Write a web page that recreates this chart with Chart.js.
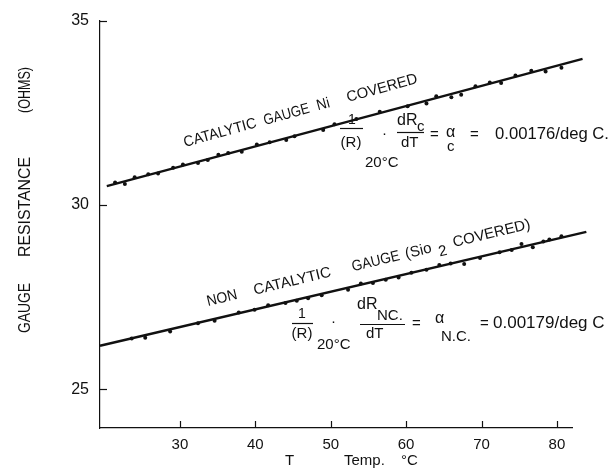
<!DOCTYPE html>
<html>
<head>
<meta charset="utf-8">
<script src="https://cdn.jsdelivr.net/npm/chart.js@4/dist/chart.umd.min.js"></script>
<style>
  body { margin: 0; background: #fff; }
  canvas { display: block; }
</style>
</head>
<body>
<canvas id="gaugeChart" width="613" height="475"></canvas>
<script>
// axis ticks
const xTicks = [30, 40, 50, 60, 70, 80];
const yTicks = [25, 30, 35];

// catalytic gauge (Ni covered) - measured points
const catT = [21.4, 22.7, 24.0, 25.8, 27.1, 29.1, 30.4, 32.4, 33.7, 35.1, 36.4, 38.2, 40.2, 41.9, 44.1, 45.2,
  49.0, 50.5, 53.4, 56.5, 60.2, 62.7, 64.0, 66.0, 67.3, 69.2, 71.1, 72.6, 74.5, 76.6, 78.5, 80.6];
const catR = [30.61, 30.57, 30.75, 30.83, 30.85, 31.01, 31.10, 31.14, 31.22, 31.36, 31.41, 31.44, 31.64, 31.70, 31.76, 31.86,
  32.03, 32.19, 32.33, 32.53, 32.68, 32.75, 32.95, 32.92, 32.99, 33.22, 33.32, 33.31, 33.51, 33.64, 33.62, 33.72];
const catFitT = [20.3, 83.4];
const catFitR = [30.51, 33.96];

// non catalytic gauge (SiO2 covered)
const ncT = [23.6, 25.4, 28.7, 32.4, 34.6, 37.8, 39.9, 41.7, 44.0, 45.5, 47.0, 48.8, 52.3, 54.0, 55.6, 57.3,
  59.0, 60.7, 62.7, 64.4, 65.9, 67.7, 69.8, 72.4, 74.0, 75.3, 76.8, 78.2, 79.0, 80.6];
const ncR = [26.38, 26.40, 26.57, 26.79, 26.86, 27.08, 27.16, 27.28, 27.34, 27.40, 27.47, 27.55, 27.70, 27.87, 27.88, 27.97,
  28.03, 28.16, 28.24, 28.37, 28.41, 28.40, 28.56, 28.72, 28.78, 28.94, 28.85, 29.01, 29.06, 29.15];
const ncFitT = [19.4, 83.9];
const ncFitR = [26.18, 29.27];

const ink = '#111';
const FONT = '"Liberation Sans", Arial, sans-serif';

const pts = (xs, ys) => xs.map((x, i) => ({ x: x, y: ys[i] }));

// text helper
function txt(ctx, s, x, y, size, opt) {
  opt = opt || {};
  ctx.save();
  ctx.translate(x, y);
  if (opt.angle) ctx.rotate(opt.angle * Math.PI / 180);
  ctx.font = size + 'px ' + FONT;
  ctx.fillStyle = ink;
  ctx.textAlign = opt.align || 'left';
  ctx.textBaseline = 'alphabetic';
  if (opt.width) ctx.fillText(s, 0, 0, opt.width); else ctx.fillText(s, 0, 0);
  ctx.restore();
}

function hline(ctx, x1, x2, y) {
  ctx.beginPath();
  ctx.moveTo(x1, y);
  ctx.lineTo(x2, y);
  ctx.stroke();
}

const decor = {
  id: 'decor',
  afterDraw(chart) {
    const ctx = chart.ctx;
    const xs = chart.scales.x, ys = chart.scales.y;
    const area = chart.chartArea;
    ctx.save();
    ctx.strokeStyle = ink;
    ctx.lineWidth = 1.2;
    // inward tick marks
    xTicks.forEach(v => {
      const px = Math.round(xs.getPixelForValue(v)) + 0.5;
      ctx.beginPath(); ctx.moveTo(px, area.bottom); ctx.lineTo(px, area.bottom - 7); ctx.stroke();
    });
    yTicks.forEach(v => {
      const py = Math.round(ys.getPixelForValue(v)) + 0.5;
      ctx.beginPath(); ctx.moveTo(area.left, py); ctx.lineTo(area.left + 7, py); ctx.stroke();
    });

    // axis titles
    txt(ctx, 'GAUGE', 30, 333, 16, { angle: -90, width: 50 });
    txt(ctx, 'RESISTANCE', 30, 257, 16, { angle: -90, width: 100 });
    txt(ctx, '(OHMS)', 30, 113, 16, { angle: -90, width: 46 });
    txt(ctx, 'T', 285, 465, 15);
    txt(ctx, 'Temp.', 344, 465, 15);
    txt(ctx, '°C', 401, 465, 15);

    // catalytic curve label
    ctx.save();
    ctx.translate(185, 147);
    ctx.rotate(-15.4 * Math.PI / 180);
    txt(ctx, 'CATALYTIC', 0, 0, 15, { width: 75 });
    txt(ctx, 'GAUGE', 83, 0, 15, { width: 47 });
    txt(ctx, 'Ni', 138, 0, 15, { width: 13 });
    txt(ctx, 'COVERED', 169, 0, 15, { width: 73 });
    ctx.restore();

    // non catalytic curve label
    ctx.save();
    ctx.translate(208, 306);
    ctx.rotate(-13.5 * Math.PI / 180);
    txt(ctx, 'NON', 0, 0, 15, { width: 31 });
    txt(ctx, 'CATALYTIC', 48, 0, 15, { width: 81 });
    txt(ctx, 'GAUGE', 149, 0, 15, { width: 49 });
    txt(ctx, '(Sio', 204, 0, 15, { width: 32 });
    txt(ctx, '2', 237, 6, 15);
    txt(ctx, 'COVERED)', 253, 0, 15, { width: 87 });
    ctx.restore();

    ctx.lineWidth = 1.2;
    // formula 1
    txt(ctx, '1', 352, 124, 14, { align: 'center' });
    hline(ctx, 340, 363, 128.5);
    txt(ctx, '(R)', 351, 147, 15, { align: 'center' });
    txt(ctx, '20°C', 365, 167, 15);
    txt(ctx, '·', 382, 138, 15);
    txt(ctx, 'dR', 397, 125, 16);
    txt(ctx, 'c', 417, 131, 15);
    hline(ctx, 397, 424, 132.5);
    txt(ctx, 'dT', 401, 147, 15);
    txt(ctx, '=', 430, 139, 15);
    txt(ctx, 'α', 446, 137, 16);
    txt(ctx, 'c', 447, 151, 15);
    txt(ctx, '=', 470, 139, 15);
    txt(ctx, '0.00176/deg C.', 495, 139, 17, { width: 114 });

    // formula 2
    txt(ctx, '1', 302, 318, 14, { align: 'center' });
    hline(ctx, 292, 313, 323.5);
    txt(ctx, '(R)', 302, 338, 15, { align: 'center' });
    txt(ctx, '20°C', 317, 349, 15);
    txt(ctx, '·', 331, 326, 15);
    txt(ctx, 'dR', 357, 309, 16);
    txt(ctx, 'NC.', 377, 320, 15, { width: 26 });
    hline(ctx, 360, 405, 324.5);
    txt(ctx, 'dT', 366, 338, 15);
    txt(ctx, '=', 412, 328, 15);
    txt(ctx, 'α', 435, 323, 16);
    txt(ctx, 'N.C.', 441, 341, 15, { width: 30 });
    txt(ctx, '=', 480, 328, 15);
    txt(ctx, '0.00179/deg C', 493, 328, 17, { width: 114 });
    ctx.restore();
  }
};

const ctx = document.getElementById('gaugeChart').getContext('2d');
const chart = new Chart(ctx, {
  type: 'scatter',
  data: {
    datasets: [
      { data: pts(catFitT, catFitR), showLine: true, borderColor: ink, borderWidth: 2.4, pointRadius: 0, clip: false },
      { data: pts(catT, catR), backgroundColor: ink, borderColor: ink, pointRadius: 2, borderWidth: 0 },
      { data: pts(ncFitT, ncFitR), showLine: true, borderColor: ink, borderWidth: 2.4, pointRadius: 0, clip: false },
      { data: pts(ncT, ncR), backgroundColor: ink, borderColor: ink, pointRadius: 2, borderWidth: 0 }
    ]
  },
  options: {
    responsive: false,
    animation: false,
    devicePixelRatio: 1,
    layout: { padding: { left: 0, right: 41, top: 14, bottom: 0 } },
    plugins: { legend: { display: false }, tooltip: { enabled: false } },
    scales: {
      x: {
        type: 'linear', min: 19.4, max: 82,
        grid: { display: false, drawTicks: false },
        border: { display: true, color: ink, width: 1.2 },
        afterBuildTicks: s => { s.ticks = xTicks.map(v => ({ value: v })); },
        afterFit: s => { s.height = 47; },
        ticks: { color: ink, padding: 8, font: { family: FONT, size: 15 } }
      },
      y: {
        type: 'linear', min: 23.95, max: 35,
        grid: { display: false, drawTicks: false },
        border: { display: true, color: ink, width: 1.2 },
        afterBuildTicks: s => { s.ticks = yTicks.map(v => ({ value: v })); },
        afterFit: s => { s.width = 100; },
        ticks: { color: ink, padding: 11, font: { family: FONT, size: 16 } }
      }
    }
  },
  plugins: [decor]
});
</script>
</body>
</html>
